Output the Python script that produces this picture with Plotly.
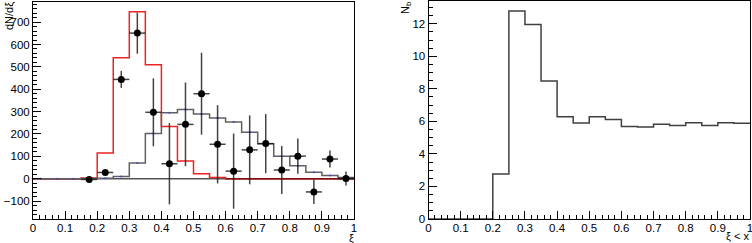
import plotly.graph_objects as go

# ---- data ----
bin_edges = [round(0.05 * i, 2) for i in range(21)]
bin_centers = [round(0.025 + 0.05 * i, 3) for i in range(20)]

red_hist = [0, 0, 0, 3, 115, 541, 746, 510, 233, 79, 22, 5, 0, 0, 0, 0, 0, 0, 0, 0]
gray_hist = [0, 0, 0, 1, 2, 10, 70, 202, 295, 310, 289, 271, 254, 208, 156, 101, 58, 29, 14, 6]

pts_x = [0.175, 0.225, 0.275, 0.325, 0.375, 0.425, 0.475, 0.525, 0.575, 0.625,
         0.675, 0.725, 0.775, 0.825, 0.875, 0.925, 0.975]
pts_y = [-3, 28, 444, 651, 297, 67, 243, 380, 154, 34, 129, 157, 39, 101, -59, 88, 1]
pts_err = [6, 8, 38, 92, 152, 182, 187, 183, 175, 168, 154, 132, 107, 79, 54, 38, 31]

nb_hist = [0, 0, 0, 0, 2.76, 12.78, 11.96, 8.48, 6.29, 5.90, 6.28, 6.12, 5.69, 5.65,
           5.83, 5.75, 5.92, 5.75, 5.92, 5.88]

W, H = 752, 243
FONT = "Liberation Sans, Arial, Helvetica, sans-serif"

def px(x):
    return x / W

def py(y):
    return 1 - y / H

fig = go.Figure()

# left panel
fig.add_trace(go.Scatter(x=[0, 1], y=[0, 0], mode="lines",
                         line=dict(color="#555555", width=1.5),
                         xaxis="x", yaxis="y", showlegend=False, hoverinfo="skip"))
fig.add_trace(go.Scatter(x=bin_edges, y=red_hist + [red_hist[-1]], mode="lines",
                         line=dict(color="#ee2222", width=1.5, shape="hv"),
                         xaxis="x", yaxis="y", showlegend=False, hoverinfo="skip"))
fig.add_trace(go.Scatter(x=[0, 0.15, None, 0.6, 1], y=[0, 0, None, 0, 0], mode="lines",
                         line=dict(color="rgba(70,0,0,0.6)", width=1.5),
                         xaxis="x", yaxis="y", showlegend=False, hoverinfo="skip"))
fig.add_trace(go.Scatter(x=bin_edges, y=gray_hist + [gray_hist[-1]], mode="lines",
                         line=dict(color="#606060", width=1.5, shape="hv"),
                         xaxis="x", yaxis="y", showlegend=False, hoverinfo="skip"))
fig.add_trace(go.Scatter(x=bin_centers, y=gray_hist, mode="markers",
                         marker=dict(color="#3344ff", size=2),
                         xaxis="x", yaxis="y", showlegend=False, hoverinfo="skip"))
fig.add_trace(go.Scatter(x=pts_x, y=pts_y, mode="markers",
                         marker=dict(color="black", size=7),
                         error_y=dict(type="data", array=pts_err, color="rgba(20,20,20,0.8)",
                                      thickness=1.5, width=0),
                         error_x=dict(type="constant", value=0.025, color="rgba(20,20,20,0.8)",
                                      thickness=1.5, width=0),
                         xaxis="x", yaxis="y", showlegend=False))

# right panel
fig.add_trace(go.Scatter(x=bin_edges, y=nb_hist + [nb_hist[-1]], mode="lines",
                         line=dict(color="#404040", width=1.5, shape="hv"),
                         xaxis="x2", yaxis="y2", showlegend=False))

tickfont = dict(family=FONT, size=11.5, color="black")
common_x = dict(range=[0, 1], dtick=0.1, tick0=0, ticks="inside", ticklen=8, tickwidth=1,
                tickcolor="black", showline=True, linecolor="black", linewidth=1,
                mirror=True, showgrid=False, zeroline=False, tickfont=tickfont,
                automargin=False, ticklabelstandoff=-2, ticklabeloverflow="allow",
                minor=dict(ticks="inside", ticklen=4, dtick=0.02, tickcolor="black",
                           showgrid=False))

fig.update_layout(
    width=W, height=H,
    margin=dict(l=0, r=0, t=0, b=0),
    paper_bgcolor="white", plot_bgcolor="white",
    xaxis=dict(domain=[px(33), px(354)], anchor="y", **common_x),
    yaxis=dict(domain=[py(219), py(2)], anchor="x", range=[-180, 790], dtick=100, tick0=0,
               ticks="inside", ticklen=8, tickcolor="black", showline=True,
               linecolor="black", linewidth=1, mirror=True, showgrid=False,
               zeroline=False, tickfont=tickfont, automargin=False,
               minor=dict(ticks="inside", ticklen=4, dtick=20, tickcolor="black",
                          showgrid=False)),
    xaxis2=dict(domain=[px(428.5), px(750)], anchor="y2", **common_x),
    yaxis2=dict(domain=[py(219), py(1)], anchor="x2", range=[0, 13.4], dtick=2, tick0=0,
                ticks="inside", ticklen=8, tickcolor="black", showline=True,
                linecolor="black", linewidth=1, mirror=True, showgrid=False,
                zeroline=False, tickfont=tickfont, automargin=False,
                minor=dict(ticks="inside", ticklen=4, dtick=0.5, tickcolor="black",
                           showgrid=False)),
    annotations=[
        dict(text="dN/dξ", x=px(9), y=py(0), xref="paper", yref="paper",
             xanchor="center", yanchor="top", textangle=-90, showarrow=False,
             font=dict(family=FONT, size=11, color="black")),
        dict(text="ξ", x=px(351), y=py(237.5), xref="paper", yref="paper",
             xanchor="center", yanchor="middle", showarrow=False,
             font=dict(family=FONT, size=11, color="black")),
        dict(text="N<sub>b</sub>", x=px(406), y=py(0), xref="paper", yref="paper",
             xanchor="center", yanchor="top", textangle=-90, showarrow=False,
             font=dict(family=FONT, size=11, color="black")),
        dict(text="ξ < x", x=px(751), y=py(235.5), xref="paper", yref="paper",
             xanchor="right", yanchor="middle", showarrow=False,
             font=dict(family=FONT, size=11, color="black")),
    ],
)

fig.write_html("out.html", config={"displayModeBar": False},
               post_script="document.body.style.margin='0';document.body.style.overflow='hidden';")
